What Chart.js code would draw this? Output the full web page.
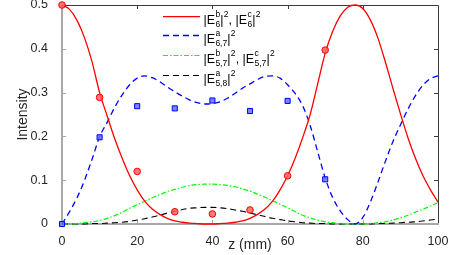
<!DOCTYPE html>
<html>
<head>
<meta charset="utf-8">
<script src="https://cdn.jsdelivr.net/npm/chart.js@4.4.0/dist/chart.umd.min.js"></script>
<style>
html, body { margin: 0; padding: 0; background: #fff; }
#wrap { width: 469px; height: 255px; }
</style>
</head>
<body>
<div id="wrap"><canvas id="intensityChart"></canvas></div>
<script>
// simulated curves, sampled every 2 mm
var zGrid = [0,2,4,6,8,10,12,14,16,18,20,22,24,26,28,30,32,34,36,38,40,42,44,46,48,50,
             52,54,56,58,60,62,64,66,68,70,72,74,76,78,80,82,84,86,88,90,92,94,96,98,100];
var redCurve = [0.5,0.49,0.465,0.425,0.37,0.3,0.247,0.195,0.15,0.11,0.078,0.052,0.034,0.022,0.013,0.007,0.004,0.002,0.001,0,0,
                0.001,0.002,0.004,0.007,0.013,0.022,0.034,0.052,0.078,0.11,0.15,0.197,0.25,0.32,0.39,0.44,0.475,0.495,0.5,
                0.492,0.466,0.425,0.37,0.31,0.252,0.197,0.15,0.11,0.078,0.05];
var blueCurve = [0,0.028,0.06,0.1,0.148,0.199,0.232,0.266,0.295,0.318,0.333,0.338,0.334,0.325,0.313,0.302,0.292,0.283,0.277,0.274,0.275,
                 0.279,0.287,0.298,0.31,0.32,0.33,0.337,0.338,0.333,0.318,0.298,0.27,0.225,0.165,0.105,0.06,0.03,0.01,0,
                 0.015,0.05,0.095,0.143,0.188,0.226,0.262,0.293,0.317,0.332,0.338];
var greenCurve = [0,0,0.001,0.003,0.005,0.008,0.013,0.019,0.027,0.036,0.044,0.052,0.06,0.067,0.074,0.079,0.084,0.088,0.09,0.091,0.091,
                  0.09,0.088,0.085,0.08,0.075,0.068,0.061,0.053,0.045,0.037,0.028,0.02,0.014,0.009,0.005,0.003,0.001,0,0,
                  0,0.001,0.003,0.005,0.009,0.014,0.02,0.027,0.034,0.041,0.049];
var blackCurve = [0,0,0,0,0.001,0.001,0.002,0.003,0.004,0.006,0.009,0.012,0.016,0.02,0.025,0.029,0.033,0.036,0.037,0.038,0.038,
                  0.037,0.035,0.032,0.029,0.025,0.021,0.017,0.013,0.01,0.007,0.005,0.003,0.002,0.001,0.001,0,0,0,0,
                  0,0,0.001,0.001,0.002,0.003,0.004,0.005,0.007,0.009,0.011];

// measured points
var measZ = [0,10,20,30,40,50,60,70];
var measRed = [0.5,0.289,0.12,0.028,0.023,0.032,0.11,0.397];
var measBlue = [0,0.198,0.269,0.264,0.282,0.258,0.281,0.102];

var xTicks = [0,20,40,60,80,100];
var yTicks = [0,0.1,0.2,0.3,0.4,0.5];

// legend labels: strings are plain text, pairs are [superscript, subscript]
var legendLabels = [
    ['|E', ['b','6'], '|', ['2',''], ', |E', ['c','6'], '|', ['2','']],
    ['|E', ['a','6,7'], '|', ['2','']],
    ['|E', ['b','5,7'], '|', ['2',''], ', |E', ['c','5,7'], '|', ['2','']],
    ['|E', ['a','5,8'], '|', ['2','']]
];

function pairs(xs, ys) {
    return xs.map(function (x, i) { return {x: x, y: ys[i]}; });
}

var lineStyles = [
    {color: '#ff0000', width: 1.3, dash: []},
    {color: '#0000ff', width: 1.3, dash: [6, 4]},
    {color: '#00ff00', width: 1.2, dash: [5, 2, 1.5, 2]},
    {color: '#000000', width: 1.1, dash: [6, 4]}
];

var framePlugin = {
    id: 'frame',
    beforeDatasetsDraw: function (chart) {
        var a = chart.chartArea, c = chart.ctx;
        var xs = chart.scales.x, ys = chart.scales.y;
        c.save();
        c.lineWidth = 1;
        c.strokeStyle = '#3c3c3c';
        c.beginPath();
        c.moveTo(a.left, a.top + 0.5); c.lineTo(a.right + 0.5, a.top + 0.5);
        c.lineTo(a.right + 0.5, a.bottom);
        xTicks.slice(1, -1).forEach(function (v) {
            var px = Math.round(xs.getPixelForValue(v)) + 0.5;
            c.moveTo(px, a.top); c.lineTo(px, a.top + 4);
        });
        yTicks.slice(1, -1).forEach(function (v) {
            var py = Math.round(ys.getPixelForValue(v)) + 0.5;
            c.moveTo(a.right, py); c.lineTo(a.right - 4, py);
        });
        c.stroke();
        c.strokeStyle = '#a8a8a8';
        c.beginPath();
        xTicks.slice(1, -1).forEach(function (v) {
            var px = Math.round(xs.getPixelForValue(v)) + 0.5;
            c.moveTo(px, a.bottom); c.lineTo(px, a.bottom - 4);
        });
        yTicks.slice(1, -1).forEach(function (v) {
            var py = Math.round(ys.getPixelForValue(v)) + 0.5;
            c.moveTo(a.left, py); c.lineTo(a.left + 4, py);
        });
        c.stroke();
        c.lineWidth = 2;
        c.beginPath();
        c.moveTo(a.left, a.top); c.lineTo(a.left, a.bottom); c.lineTo(a.right + 1, a.bottom);
        c.stroke();
        c.restore();
    }
};

var legendPlugin = {
    id: 'richLegend',
    afterDraw: function (chart) {
        var c = chart.ctx;
        var rows = [16.7, 35.5, 55.5, 75.5];
        var main = '12.5px "Liberation Sans", Arial, sans-serif';
        var small = '8.5px "Liberation Sans", Arial, sans-serif';
        c.save();
        legendLabels.forEach(function (tokens, i) {
            var st = lineStyles[i], y = rows[i];
            c.strokeStyle = st.color; c.lineWidth = st.width; c.setLineDash(st.dash);
            c.beginPath(); c.moveTo(163, y); c.lineTo(200, y); c.stroke();
            c.setLineDash([]);
            c.fillStyle = '#000';
            c.textBaseline = 'alphabetic';
            var x = 203.5, base = y + 7;
            tokens.forEach(function (t) {
                if (typeof t === 'string') {
                    c.font = main;
                    c.fillText(t, x, base);
                    x += c.measureText(t).width;
                } else {
                    c.font = small;
                    var w1 = t[0] ? c.measureText(t[0]).width : 0;
                    var w2 = t[1] ? c.measureText(t[1]).width : 0;
                    if (t[0]) c.fillText(t[0], x + 0.3, base - 7);
                    if (t[1]) c.fillText(t[1], x + 0.3, base + 3.2);
                    x += Math.max(w1, w2) + 0.4;
                }
            });
        });
        c.restore();
    }
};

var tickFont = {family: '"Liberation Sans", Arial, sans-serif', size: 12.5};
var titleFont = {family: '"Liberation Sans", Arial, sans-serif', size: 14};

var ctx = document.getElementById('intensityChart').getContext('2d');
var chart = new Chart(ctx, {
    type: 'line',
    data: {
        datasets: [
            {data: pairs(measZ, measRed), showLine: false, pointStyle: 'circle', pointRadius: 3.3,
             pointBackgroundColor: 'rgba(255,95,95,0.85)', pointBorderColor: '#ff0000', pointBorderWidth: 1,
             order: 0, clip: false},
            {data: pairs(measZ, measBlue), showLine: false, pointStyle: 'rect', pointRadius: 3.6,
             pointBackgroundColor: 'rgba(95,115,255,0.85)', pointBorderColor: '#0000ff', pointBorderWidth: 1,
             order: 1, clip: false},
            {data: pairs(zGrid, redCurve), borderColor: lineStyles[0].color, borderWidth: lineStyles[0].width,
             borderDash: lineStyles[0].dash, pointRadius: 0, cubicInterpolationMode: 'monotone', order: 2, clip: false},
            {data: pairs(zGrid, blueCurve), borderColor: lineStyles[1].color, borderWidth: lineStyles[1].width,
             borderDash: lineStyles[1].dash, pointRadius: 0, cubicInterpolationMode: 'monotone', order: 3, clip: false},
            {data: pairs(zGrid, greenCurve), borderColor: lineStyles[2].color, borderWidth: lineStyles[2].width,
             borderDash: lineStyles[2].dash, pointRadius: 0, cubicInterpolationMode: 'monotone', order: 4, clip: false},
            {data: pairs(zGrid, blackCurve), borderColor: lineStyles[3].color, borderWidth: lineStyles[3].width,
             borderDash: lineStyles[3].dash, pointRadius: 0, cubicInterpolationMode: 'monotone', order: 5, clip: false}
        ]
    },
    options: {
        responsive: true,
        maintainAspectRatio: false,
        animation: false,
        layout: {padding: {top: 5, right: 31, left: 0, bottom: 0}},
        plugins: {legend: {display: false}, tooltip: {enabled: false}},
        scales: {
            x: {
                type: 'linear', min: 0, max: 100,
                afterBuildTicks: function (s) { s.ticks = xTicks.map(function (v) { return {value: v}; }); },
                afterFit: function (s) { s.height = 31; s.paddingLeft = 0; s.paddingRight = 0; },
                grid: {display: false},
                border: {display: false},
                ticks: {font: tickFont, color: '#262626', padding: 2, maxRotation: 0,
                        callback: function (v) { return String(v); }},
                title: {display: true, text: 'z (mm)', font: titleFont, color: '#262626', padding: {top: 0, bottom: 1}}
            },
            y: {
                type: 'linear', min: 0, max: 0.5,
                afterBuildTicks: function (s) { s.ticks = yTicks.map(function (v) { return {value: v}; }); },
                afterFit: function (s) { s.width = 62; s.paddingTop = 0; s.paddingBottom = 0; },
                grid: {display: false},
                border: {display: false},
                ticks: {font: tickFont, color: '#262626', padding: 6,
                        callback: function (v) { return v === 0 ? '0' : v.toFixed(1); }},
                title: {display: true, text: 'Intensity', font: titleFont, color: '#262626', padding: {top: 15, bottom: 0}}
            }
        }
    },
    plugins: [framePlugin, legendPlugin]
});
</script>
</body>
</html>
